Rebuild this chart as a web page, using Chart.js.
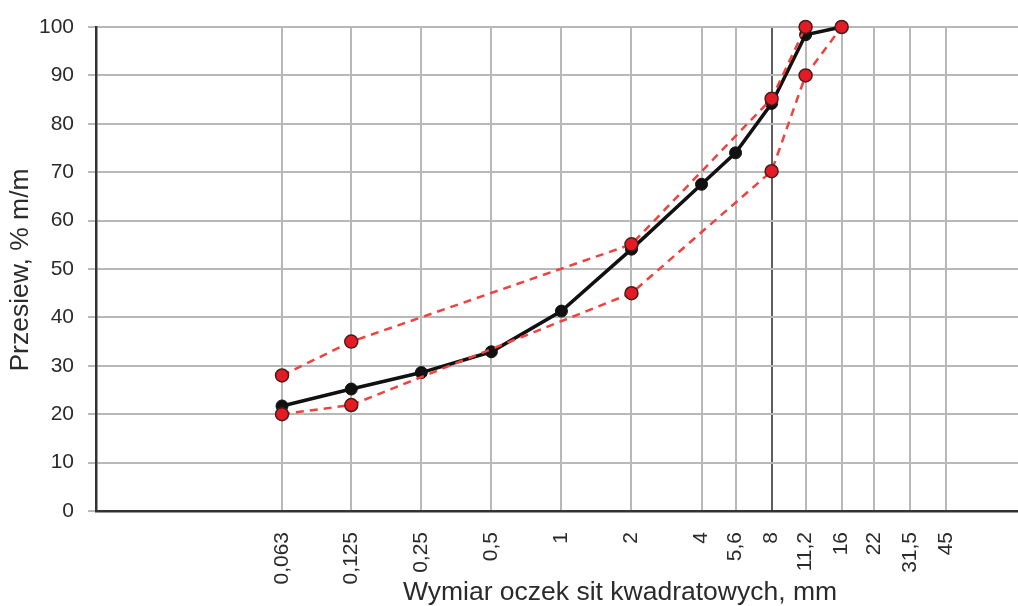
<!DOCTYPE html>
<html>
<head>
<meta charset="utf-8">
<script src="https://cdn.jsdelivr.net/npm/chart.js@4/dist/chart.umd.min.js"></script>
<style>
  body { margin: 0; background: #fff; overflow: hidden; }
  #wrap { width: 1018px; height: 606px; position: relative; }
</style>
</head>
<body>
<div id="wrap"><canvas id="sieveChart"></canvas></div>
<script>
const sieveSizes = [0.063, 0.125, 0.25, 0.5, 1, 2, 4, 5.6, 8, 11.2, 16, 22, 31.5, 45];
const tickLabels = ["0,063", "0,125", "0,25", "0,5", "1", "2", "4", "5,6", "8", "11,2", "16", "22", "31,5", "45"];

const mixSizes = [0.063, 0.125, 0.25, 0.5, 1, 2, 4, 5.6, 8, 11.2, 16];
const mixPassing = [21.7, 25.2, 28.6, 32.9, 41.3, 54.1, 67.5, 74, 84.2, 98.4, 100];

const upperSizes = [0.063, 0.125, 2, 8, 11.2];
const upperPassing = [28, 35, 55.1, 85.2, 100];

const lowerSizes = [0.063, 0.125, 2, 8, 11.2, 16];
const lowerPassing = [20, 21.9, 45, 70.2, 90, 100];

const yTicks = [0, 10, 20, 30, 40, 50, 60, 70, 80, 90, 100];

const FONT = '"Liberation Sans", Arial, sans-serif';
const TEXT = "#2b2b2b";
const GRID = "#b8b8b8";

function toPoints(xs, ys) {
  return xs.map((x, i) => ({ x, y: ys[i] }));
}

const redCurve = {
  borderColor: "#f0413f",
  borderWidth: 2.5,
  borderDash: [8, 6],
  pointRadius: 6.5,
  pointBackgroundColor: "#e41b24",
  pointBorderColor: "#4a1c1c",
  pointBorderWidth: 1.5,
  tension: 0,
  clip: false,
};

const axisTitles = {
  id: "axisTitles",
  afterDraw(chart) {
    const ctx = chart.ctx;
    ctx.save();
    ctx.fillStyle = TEXT;
    ctx.font = `26.5px ${FONT}`;
    ctx.textAlign = "center";
    ctx.textBaseline = "middle";
    ctx.fillText("Wymiar oczek sit kwadratowych, mm", 620, 593);
    ctx.translate(21, 270);
    ctx.rotate(-Math.PI / 2);
    ctx.fillText("Przesiew, % m/m", 0, 0);
    ctx.restore();
  },
};

const ctx = document.getElementById("sieveChart").getContext("2d");
new Chart(ctx, {
  type: "line",
  data: {
    datasets: [
      { ...redCurve, label: "Górna granica", data: toPoints(upperSizes, upperPassing) },
      { ...redCurve, label: "Dolna granica", data: toPoints(lowerSizes, lowerPassing) },
      {
        label: "Mieszanka",
        data: toPoints(mixSizes, mixPassing),
        borderColor: "#111",
        borderWidth: 3.5,
        pointRadius: 6,
        pointBackgroundColor: "#111",
        pointBorderColor: "#111",
        pointBorderWidth: 1,
        tension: 0,
        clip: false,
      },
    ],
  },
  options: {
    responsive: true,
    maintainAspectRatio: false,
    animation: false,
    layout: { autoPadding: false, padding: { top: 27, left: 0, right: 0, bottom: 0 } },
    plugins: {
      legend: { display: false },
      tooltip: { enabled: false },
    },
    scales: {
      x: {
        type: "logarithmic",
        min: 0.01,
        max: 91.6,
        afterBuildTicks(scale) {
          scale.ticks = sieveSizes.map((value) => ({ value }));
        },
        afterFit(scale) {
          scale.height = 95;
          scale.paddingLeft = 0;
          scale.paddingRight = 0;
        },
        ticks: {
          autoSkip: false,
          minRotation: 90,
          maxRotation: 90,
          padding: 21,
          color: TEXT,
          font: { family: FONT, size: 21 },
          callback: (value) => tickLabels[sieveSizes.indexOf(value)],
        },
        grid: {
          drawTicks: false,
          lineWidth: 2,
          color: (c) => (c.tick && c.tick.value === 8 ? "#5e5e5e" : GRID),
        },
        border: { display: true, color: "#333", width: 2.5 },
      },
      y: {
        min: 0,
        max: 100,
        afterBuildTicks(scale) {
          scale.ticks = yTicks.map((value) => ({ value }));
        },
        afterFit(scale) {
          scale.width = 96;
          scale.paddingTop = 0;
          scale.paddingBottom = 0;
        },
        ticks: {
          padding: 14,
          color: TEXT,
          font: { family: FONT, size: 21 },
        },
        grid: {
          tickLength: 8,
          lineWidth: 2,
          color: GRID,
        },
        border: { display: true, color: "#333", width: 2.5 },
      },
    },
  },
  plugins: [axisTitles],
});
</script>
</body>
</html>
